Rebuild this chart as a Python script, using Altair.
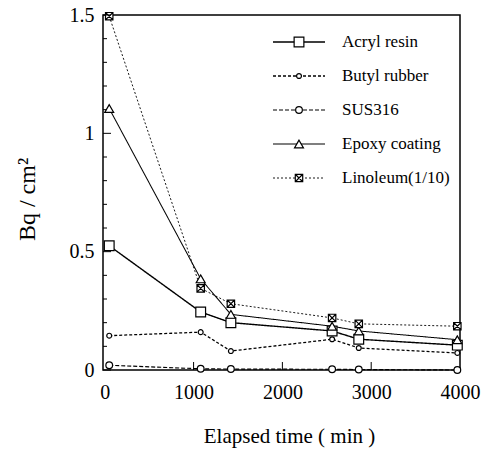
import altair as alt
import pandas as pd

series = ["Acryl resin", "Butyl rubber", "SUS316", "Epoxy coating", "Linoleum(1/10)"]
time_min = [50, 1080, 1420, 2560, 2860, 3970]
acryl = [0.525, 0.245, 0.2, 0.165, 0.13, 0.105]
butyl = [0.145, 0.16, 0.08, 0.13, 0.093, 0.072]
sus316 = [0.02, 0.005, 0.004, 0.003, 0.002, 0.0]
epoxy = [1.105, 0.385, 0.235, 0.185, 0.165, 0.128]
linoleum = [1.495, 0.345, 0.28, 0.22, 0.195, 0.185]

dashes = [[1, 0], [3, 2], [4, 2], [1, 0], [2, 2]]
widths = [1.4, 0.9, 1.0, 1.8, 1.0]
boxx = "M-1,-1L1,-1L1,1L-1,1Z M-1,-1L1,1 M1,-1L-1,1"
shapes = ["square", "circle", "circle", "triangle-up", boxx]
sizes = [95, 24, 45, 80, 55]

y_major = [0, 0.5, 1, 1.5]
y_minor = [0.1, 0.2, 0.3, 0.4, 0.6, 0.7, 0.8, 0.9, 1.1, 1.2, 1.3, 1.4]
x_major = [0, 1000, 2000, 3000, 4000]
x_inner = [1000, 2000, 3000]

rows = []
for name, vals in zip(series, [acryl, butyl, sus316, epoxy, linoleum]):
    for t, v in zip(time_min, vals):
        rows.append({"time": t, "value": v, "series": name})
df = pd.DataFrame(rows)

FONT = "Liberation Serif"
xscale = alt.Scale(domain=[-20, 4000], nice=False, zero=False, padding=0)
yscale = alt.Scale(domain=[0, 1.5], nice=False, padding=0)

dash_enc = alt.StrokeDash("series:N", scale=alt.Scale(domain=series, range=dashes), legend=None)
width_enc = alt.StrokeWidth("series:N", scale=alt.Scale(domain=series, range=widths), legend=None)

x_enc = alt.X("time:Q", scale=xscale,
              axis=alt.Axis(values=x_major, format="d", ticks=False, grid=False, domain=False,
                            labelFlush=False, labelOverlap=False,
                            labelFont=FONT, labelFontSize=20, labelColor="black",
                            labelPadding=12, title="Elapsed time  ( min )",
                            titleFont=FONT, titleFontSize=21, titleFontWeight="normal",
                            titleColor="black", titlePadding=23, titleX=186,
                            titleAlign="center"))
y_enc = alt.Y("value:Q", scale=yscale,
              axis=alt.Axis(values=y_major, format="~g", ticks=False, grid=False, domain=False,
                            labelFlush=False, labelOverlap=False,
                            labelFont=FONT, labelFontSize=20, labelColor="black",
                            labelPadding=9, title="Bq / cm²",
                            titleFont=FONT, titleFontSize=24, titleFontWeight="normal",
                            titleColor="black", titleX=-76, titleY=184,
                            titleAlign="center", titleBaseline="middle"))

lines = alt.Chart(df).mark_line(color="black").encode(
    x=x_enc, y=y_enc, strokeDash=dash_enc, strokeWidth=width_enc, detail="series:N")

point_layers = []
for name, shp, sz in zip(series, shapes, sizes):
    point_layers.append(
        alt.Chart(df).transform_filter(alt.datum.series == name)
        .mark_point(shape=shp, size=sz, filled=True, fill="white", stroke="black",
                    strokeWidth=1.2, opacity=1)
        .encode(x=alt.X("time:Q", scale=xscale), y=alt.Y("value:Q", scale=yscale))
    )

ymaj = alt.Chart(pd.DataFrame({"value": y_major})).mark_rule(color="black", strokeWidth=1).encode(
    y=alt.Y("value:Q", scale=yscale), x=alt.value(0), x2=alt.value(8))
ymin = alt.Chart(pd.DataFrame({"value": y_minor})).mark_rule(color="black", strokeWidth=1).encode(
    y=alt.Y("value:Q", scale=yscale), x=alt.value(0), x2=alt.value(4))
xin = alt.Chart(pd.DataFrame({"time": x_inner})).mark_rule(color="black", strokeWidth=1).encode(
    x=alt.X("time:Q", scale=xscale), y=alt.value(355), y2=alt.value(347))

main = alt.layer(lines, *point_layers, ymaj, ymin, xin)

leg_df = pd.DataFrame({"series": series})
leg_y = alt.Y("series:N", scale=alt.Scale(type="point", domain=series, range=[27, 163], padding=0), axis=None)
leg_rule = alt.Chart(leg_df).mark_rule(color="black").encode(
    y=leg_y, x=alt.value(170), x2=alt.value(222), strokeDash=dash_enc, strokeWidth=width_enc)
leg_point_layers = []
for name, shp, sz in zip(series, shapes, sizes):
    leg_point_layers.append(
        alt.Chart(leg_df).transform_filter(alt.datum.series == name)
        .mark_point(shape=shp, size=sz, filled=True, fill="white", stroke="black",
                    strokeWidth=1.2, opacity=1)
        .encode(y=leg_y, x=alt.value(196))
    )
leg_txt = alt.Chart(leg_df).mark_text(align="left", baseline="middle", font=FONT,
                                      fontSize=17, color="black").encode(
    y=leg_y, x=alt.value(239), text="series:N")
legend = alt.layer(leg_rule, *leg_point_layers, leg_txt)

chart = alt.layer(main, legend).resolve_scale(y="independent").properties(
    width=357, height=355,
    autosize=alt.AutoSizeParams(type="none"),
    padding={"left": 103, "top": 15, "right": 27, "bottom": 89},
    background="white",
).configure_view(stroke="black", strokeWidth=1.5)

chart.save("out.html", embed_options={"renderer": "svg", "actions": False})
